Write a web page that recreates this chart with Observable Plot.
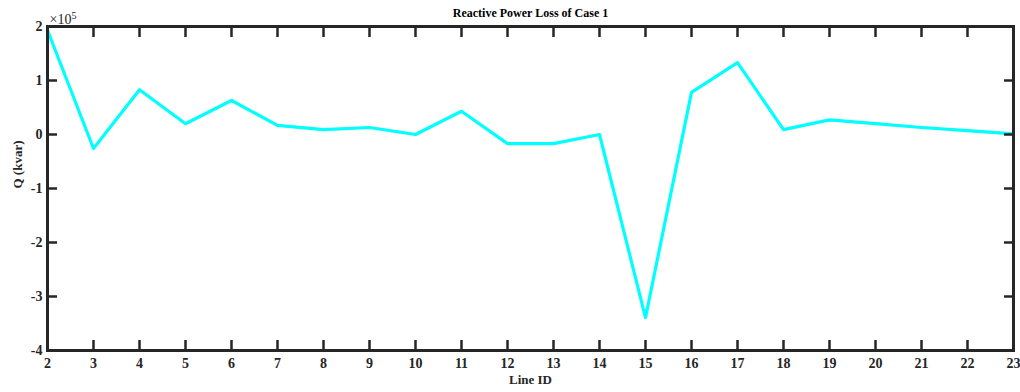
<!DOCTYPE html>
<html>
<head>
<meta charset="utf-8">
<script src="https://cdn.jsdelivr.net/npm/d3@7"></script>
<script src="https://cdn.jsdelivr.net/npm/@observablehq/plot@0.6"></script>
<style>
  html, body { margin: 0; padding: 0; background: #fff; }
  svg { display: block; }
</style>
</head>
<body>
<div id="chart"></div>
<script>
const lineIds = [2, 3, 4, 5, 6, 7, 8, 9, 10, 11, 12, 13, 14, 15, 16, 17, 18, 19, 20, 21, 22, 23];
const qLoss = [1.93, -0.26, 0.83, 0.20, 0.63, 0.17, 0.09, 0.13, 0.00, 0.43, -0.17, -0.17, 0.00, -3.39, 0.78, 1.33, 0.09, 0.27, 0.20, 0.13, 0.07, 0.01].map(v => v * 1e5);
const xTicks = d3.range(2, 24);
const yTicks = [-4e5, -3e5, -2e5, -1e5, 0, 1e5, 2e5];
const titleText = "Reactive Power Loss of Case 1";
const xLabel = "Line ID";
const yLabel = "Q (kvar)";

const data = lineIds.map((id, i) => ({id, q: qLoss[i]}));
const axisColor = "#262626";
const font = "'Liberation Serif', 'Times New Roman', serif";

const chart = Plot.plot({
  width: 1020,
  height: 392,
  marginLeft: 47,
  marginRight: 7,
  marginTop: 26,
  marginBottom: 42,
  style: {fontFamily: font, fontWeight: "bold", fontSize: "14px", color: axisColor, background: "#fff"},
  x: {domain: [2, 23], label: null},
  y: {domain: [-4e5, 2e5], label: null},
  marks: [
    Plot.line(data, {x: "id", y: "q", stroke: "#00FFFF", strokeWidth: 3.2}),
    Plot.axisX({anchor: "bottom", ticks: xTicks, tickSize: -10, tickPadding: 18, strokeWidth: 2.5, stroke: axisColor, fill: axisColor, fontSize: 14, tickFormat: d => String(d), label: null}),
    Plot.axisX({anchor: "top", ticks: xTicks, tickSize: -10, strokeWidth: 2.5, stroke: axisColor, tickFormat: () => "", label: null}),
    Plot.axisY({anchor: "left", ticks: yTicks, tickSize: -10, tickPadding: 15, strokeWidth: 2.5, stroke: axisColor, fill: axisColor, fontSize: 14, tickFormat: d => String(Math.round(d / 1e5)), label: null}),
    Plot.axisY({anchor: "right", ticks: yTicks, tickSize: -10, strokeWidth: 2.5, stroke: axisColor, tickFormat: () => "", label: null}),
    Plot.frame({stroke: axisColor, strokeWidth: 3}),
    Plot.text([titleText], {frameAnchor: "top", dy: -18, text: d => d, fontSize: 12, fontWeight: "bold", fill: "#000"}),
    Plot.text([xLabel], {frameAnchor: "bottom", dy: 33, text: d => d, fontSize: 13, fontWeight: "bold", fill: axisColor}),
    Plot.text([yLabel], {frameAnchor: "left", dx: -30, rotate: -90, text: d => d, fontSize: 13, fontWeight: "bold", fill: axisColor}),
    Plot.text(["exp"], {frameAnchor: "top-left", dx: 2, dy: -12, text: d => d, textAnchor: "start", fontSize: 14, fill: axisColor, className: "exp-label"})
  ]
});

// Exponent label with superscript formatting
d3.select(chart).selectAll(".exp-label text").each(function() {
  const t = d3.select(this);
  t.text(null).style("font-weight", "normal");
  t.append("tspan").text("\u00d710");
  t.append("tspan").attr("dy", "-0.5em").attr("font-size", "10px").text("5");
});

document.getElementById("chart").appendChild(chart);
</script>
</body>
</html>
